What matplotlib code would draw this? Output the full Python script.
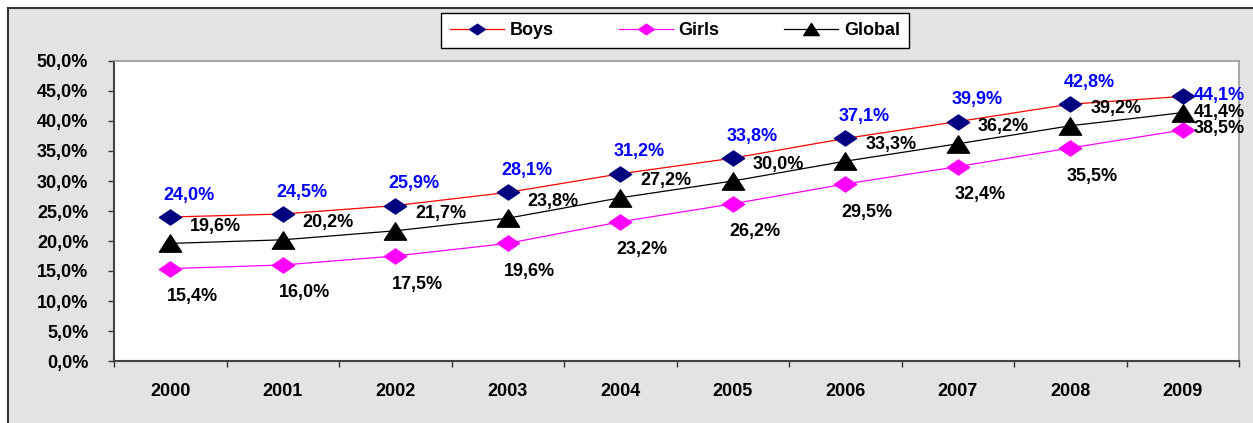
import matplotlib.pyplot as plt
from matplotlib.path import Path
from matplotlib.patches import Rectangle

# Chart values
years = ['2000', '2001', '2002', '2003', '2004', '2005', '2006', '2007', '2008', '2009']
boys = [24.0, 24.5, 25.9, 28.1, 31.2, 33.8, 37.1, 39.9, 42.8, 44.1]
girls = [15.4, 16.0, 17.5, 19.6, 23.2, 26.2, 29.5, 32.4, 35.5, 38.5]
global_ = [19.6, 20.2, 21.7, 23.8, 27.2, 30.0, 33.3, 36.2, 39.2, 41.4]
yticks = [0, 5, 10, 15, 20, 25, 30, 35, 40, 45, 50]

plt.rcParams['font.family'] = ['Liberation Sans', 'DejaVu Sans']
plt.rcParams['font.weight'] = 'bold'

def pct(v):
    return f"{v:.1f}%".replace('.', ',')

# squashed diamond and triangle like the Excel markers
diamond = Path([(-1, 0), (0, 0.68), (1, 0), (0, -0.68), (-1, 0)], closed=True)
triangle = Path([(0, 0.78), (-1, -0.78), (1, -0.78), (0, 0.78)], closed=True)

fig = plt.figure(figsize=(12.53, 4.23), dpi=100, facecolor='white')
bg = Rectangle((8 / 1253, -0.05), 1.1, (423 - 8) / 423 + 0.05, transform=fig.transFigure,
               facecolor='#e3e3e5', edgecolor='#333333', linewidth=1.5, zorder=0)
fig.add_artist(bg)

ax = fig.add_axes([114 / 1253, 62 / 423, 1125 / 1253, 300 / 423])
ax.set_facecolor('white')

x = list(range(len(years)))
ax.plot(x, boys, color='#ff0000', lw=0.9, marker=diamond, ms=16,
        mfc='#000080', mec='#000080', label='Boys', zorder=3)
ax.plot(x, girls, color='#ff00ff', lw=0.9, marker=diamond, ms=16,
        mfc='#ff00ff', mec='#ff00ff', label='Girls', zorder=3)
ax.plot(x, global_, color='black', lw=0.9, marker=triangle, ms=16,
        mfc='black', mec='black', label='Global', zorder=3)

lbl = dict(textcoords='offset pixels', fontsize=13, fontweight='bold', va='center', zorder=4)
last = len(years) - 1
for i in x:
    if i == last:
        ax.annotate(pct(boys[i]), (i, boys[i]), xytext=(11, 1), ha='left', color='#0000ff', **lbl)
        ax.annotate(pct(global_[i]), (i, global_[i]), xytext=(11, 0), ha='left', color='black', **lbl)
        ax.annotate(pct(girls[i]), (i, girls[i]), xytext=(11, 2), ha='left', color='black', **lbl)
    else:
        ax.annotate(pct(boys[i]), (i, boys[i]), xytext=(19, 22), ha='center', color='#0000ff', **lbl)
        ax.annotate(pct(global_[i]), (i, global_[i]), xytext=(20, 17), ha='left', color='black', **lbl)
        ax.annotate(pct(girls[i]), (i, girls[i]), xytext=(22, -28), ha='center', color='black', **lbl)

ax.set_xlim(-0.5, len(years) - 0.5)
ax.set_ylim(0, 50)

# tick marks between categories, labels at category centres
ax.set_xticks([i - 0.5 for i in range(len(years) + 1)])
ax.set_xticklabels([])
ax.set_xticks(x, minor=True)
ax.set_xticklabels(years, minor=True, fontsize=13, fontweight='bold')
ax.tick_params(axis='x', which='major', direction='out', length=4.5, width=1, color='#333333')
ax.tick_params(axis='x', which='minor', length=0, pad=16)

ax.set_yticks(yticks)
ax.set_yticklabels([pct(v) for v in yticks], fontsize=13, fontweight='bold')
ax.tick_params(axis='y', direction='out', length=4.5, width=1, color='#333333', pad=14)

for s in ['left', 'bottom']:
    ax.spines[s].set_color('#444444')
    ax.spines[s].set_linewidth(1.5)
for s in ['top', 'right']:
    ax.spines[s].set_color('#999999')
    ax.spines[s].set_linewidth(1.2)

leg = fig.legend(loc='center', bbox_to_anchor=(675 / 1253, 1 - 30.5 / 423), ncol=3,
                 fancybox=False, edgecolor='black', framealpha=1, fontsize=13,
                 handlelength=3.0, handletextpad=0.3, columnspacing=3.6,
                 borderpad=0.5, markerscale=0.7)
leg.get_frame().set_linewidth(1.0)

fig.savefig('out.png', dpi=100)
